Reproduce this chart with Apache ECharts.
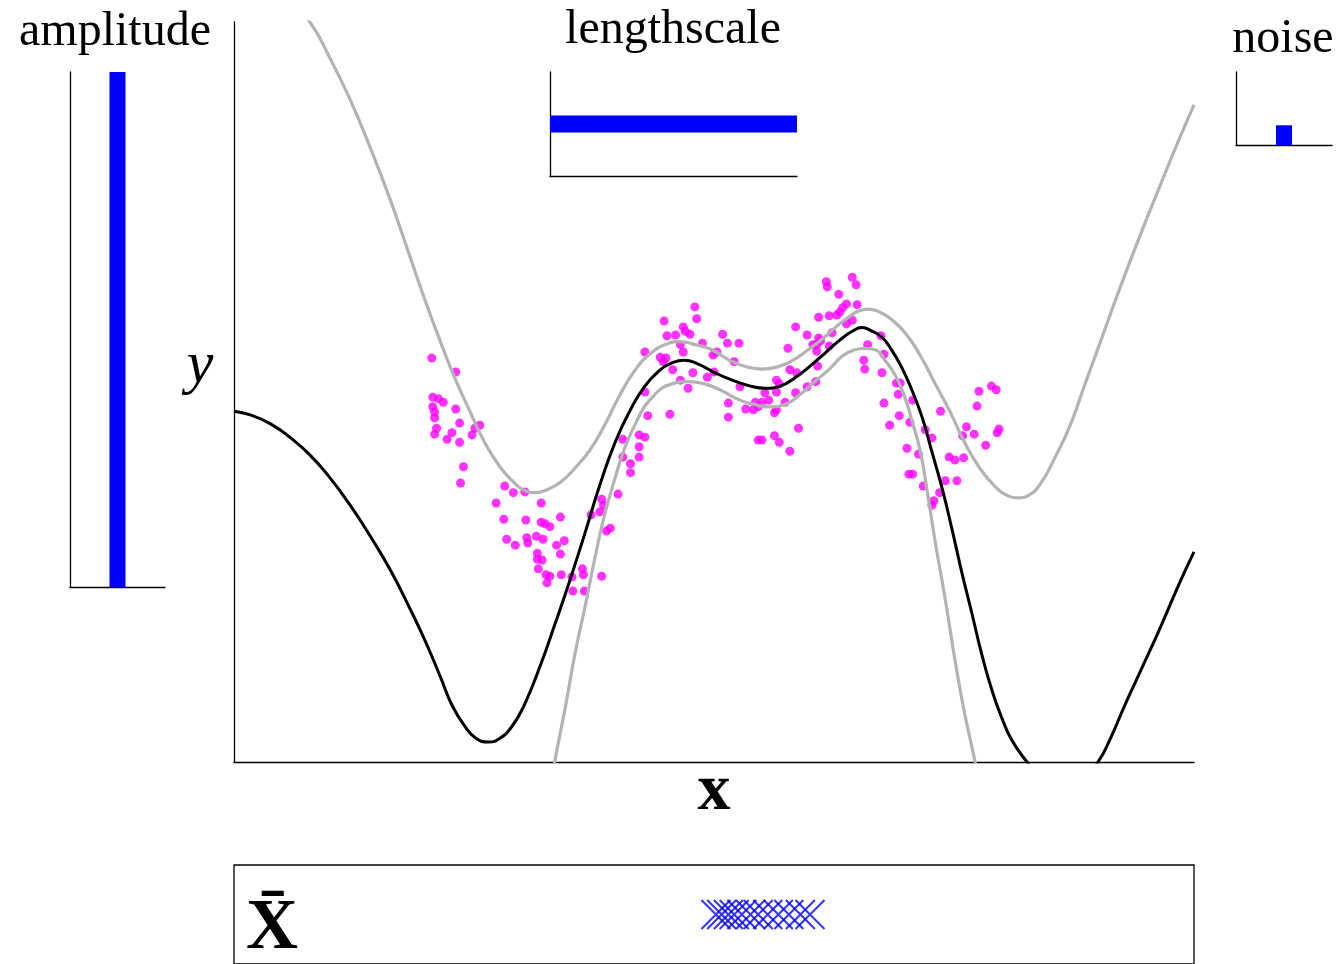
<!DOCTYPE html>
<html>
<head>
<meta charset="utf-8">
<script src="https://cdn.jsdelivr.net/npm/echarts@6/dist/echarts.min.js"></script>
<style>html,body{margin:0;padding:0;background:#fff;}#c{width:1341px;height:964px;}</style>
</head>
<body>
<div id="c"></div>
<script>
// ---- data ----
const meanCurve = [[0.00,4.74],[0.17,4.69],[0.38,4.57],[0.58,4.39],[0.79,4.15],[1.00,3.84],[1.21,3.47],[1.42,3.05],[1.63,2.59],[1.83,2.08],[1.99,1.64],[2.15,1.15],[2.27,0.77],[2.40,0.49],[2.52,0.32],[2.65,0.27],[2.77,0.32],[2.90,0.49],[3.02,0.76],[3.19,1.30],[3.34,1.85],[3.50,2.46],[3.66,3.11],[3.81,3.74],[3.97,4.32],[4.13,4.76],[4.28,5.08],[4.44,5.30],[4.54,5.38],[4.69,5.43],[4.83,5.38],[4.98,5.28],[5.15,5.18],[5.38,5.08],[5.53,5.05],[5.69,5.08],[5.84,5.19],[6.00,5.35],[6.16,5.53],[6.31,5.70],[6.44,5.82],[6.54,5.87],[6.65,5.82],[6.75,5.74],[6.85,5.57],[6.96,5.32],[7.06,5.03],[7.17,4.65],[7.27,4.19],[7.38,3.68],[7.48,3.14],[7.58,2.57],[7.69,1.99],[7.79,1.45],[7.90,0.95],[8.00,0.59],[8.10,0.30],[8.26,0.00],[8.45,-0.30],[8.63,-0.41],[8.81,-0.30],[9.00,0.00],[9.13,0.32],[9.28,0.77],[9.44,1.22],[9.65,1.82],[9.85,2.42],[10.00,2.84]];
const upperCurve = [[0.00,11.11],[0.27,10.70],[0.53,10.36],[0.79,10.00],[1.00,9.51],[1.21,8.95],[1.42,8.30],[1.63,7.59],[1.83,6.84],[1.99,6.24],[2.15,5.68],[2.30,5.19],[2.46,4.73],[2.61,4.32],[2.77,3.99],[2.90,3.80],[3.01,3.68],[3.14,3.64],[3.26,3.68],[3.40,3.78],[3.55,3.97],[3.71,4.22],[3.86,4.55],[4.02,4.96],[4.18,5.30],[4.33,5.51],[4.49,5.64],[4.65,5.68],[4.80,5.64],[4.96,5.58],[5.19,5.41],[5.34,5.34],[5.50,5.31],[5.66,5.34],[5.81,5.42],[5.97,5.56],[6.13,5.72],[6.27,5.88],[6.40,6.01],[6.50,6.09],[6.60,6.12],[6.71,6.09],[6.83,6.00],[6.99,5.80],[7.15,5.49],[7.30,5.12],[7.46,4.73],[7.61,4.32],[7.77,3.97],[7.93,3.72],[8.06,3.60],[8.17,3.57],[8.27,3.60],[8.40,3.76],[8.55,4.11],[8.71,4.55],[8.86,5.09],[9.02,5.66],[9.23,6.41],[9.44,7.12],[9.65,7.80],[9.85,8.43],[10.00,8.88]];
const lowerCurve = [[3.24,-0.78],[3.34,0.00],[3.45,0.73],[3.55,1.45],[3.66,2.12],[3.76,2.76],[3.86,3.34],[3.97,3.84],[4.07,4.24],[4.20,4.62],[4.33,4.89],[4.56,5.11],[4.73,5.14],[4.90,5.11],[5.06,5.03],[5.27,4.89],[5.43,4.83],[5.58,4.80],[5.74,4.83],[5.90,4.97],[6.05,5.14],[6.21,5.32],[6.34,5.49],[6.47,5.57],[6.57,5.59],[6.68,5.57],[6.78,5.43],[6.89,5.22],[6.99,4.92],[7.06,4.62],[7.15,4.19],[7.23,3.58],[7.31,2.93],[7.41,2.19],[7.51,1.38],[7.61,0.66],[7.72,0.00],[7.82,-0.68]];
const observations = [[2.06,5.46],[2.31,5.27],[2.07,4.93],[2.13,4.91],[2.18,4.86],[2.07,4.80],[2.09,4.73],[2.09,4.65],[2.31,4.77],[2.35,4.58],[2.56,4.55],[2.51,4.51],[2.11,4.51],[2.09,4.43],[2.27,4.45],[2.22,4.36],[2.35,4.32],[2.48,4.42],[2.39,3.99],[2.36,3.77],[2.82,3.73],[2.91,3.64],[3.03,3.65],[2.73,3.50],[3.20,3.50],[2.81,3.28],[3.04,3.27],[3.20,3.24],[3.24,3.22],[3.29,3.18],[3.40,3.31],[3.83,3.55],[3.72,3.34],[3.81,3.38],[3.85,3.47],[3.92,3.16],[3.88,3.12],[4.00,3.62],[2.84,3.01],[2.93,2.93],[3.05,3.03],[3.06,2.96],[3.15,3.05],[3.22,3.01],[3.44,2.99],[3.36,2.93],[3.40,2.81],[3.16,2.82],[3.16,2.74],[3.21,2.73],[3.17,2.61],[3.25,2.53],[3.29,2.51],[3.26,2.42],[3.41,2.53],[3.52,2.50],[3.63,2.61],[3.64,2.53],[3.83,2.51],[3.53,2.31],[3.65,2.31],[4.80,6.15],[4.48,5.96],[4.82,5.99],[4.68,5.88],[4.70,5.82],[4.75,5.78],[4.51,5.76],[4.60,5.77],[5.09,5.78],[5.14,5.66],[4.88,5.66],[4.65,5.64],[4.68,5.54],[4.28,5.54],[4.44,5.47],[4.50,5.46],[4.47,5.41],[5.03,5.54],[4.99,5.50],[4.57,5.30],[4.78,5.26],[5.00,5.27],[4.93,5.20],[4.65,5.16],[4.73,5.05],[4.28,5.00],[5.15,4.85],[4.31,4.68],[4.54,4.70],[5.15,4.66],[4.05,4.36],[4.22,4.42],[4.28,4.39],[4.22,4.26],[4.05,4.12],[4.22,4.12],[4.13,4.03],[4.13,3.91],[6.17,6.49],[6.18,6.42],[6.44,6.55],[6.48,6.45],[6.30,6.32],[6.38,6.19],[6.34,6.14],[6.49,6.18],[6.31,6.08],[6.28,6.04],[6.20,6.03],[6.09,6.01],[6.44,5.97],[6.38,5.92],[5.85,5.88],[6.23,5.80],[5.97,5.77],[6.09,5.73],[6.11,5.69],[6.07,5.64],[6.03,5.64],[6.07,5.55],[6.20,5.62],[5.77,5.59],[5.26,5.66],[6.60,5.64],[5.21,5.41],[6.08,5.35],[5.79,5.30],[6.56,5.43],[6.57,5.31],[5.86,5.26],[6.06,5.14],[5.97,5.07],[5.65,5.16],[5.68,5.11],[5.65,5.00],[5.53,4.99],[5.27,5.07],[5.85,4.99],[5.43,4.86],[5.50,4.86],[5.57,4.89],[5.46,4.80],[5.41,4.76],[5.74,4.86],[5.33,4.77],[5.65,4.76],[5.63,4.72],[5.88,4.51],[5.46,4.35],[5.50,4.35],[5.63,4.41],[5.68,4.32],[5.79,4.20],[6.74,5.76],[6.77,5.51],[6.75,5.26],[6.90,5.12],[6.94,5.12],[6.92,4.97],[7.07,4.89],[6.77,4.85],[6.93,4.68],[7.04,4.59],[6.83,4.55],[7.36,4.74],[7.20,4.49],[7.27,4.38],[7.01,4.24],[7.13,4.16],[7.76,5.01],[7.89,5.08],[7.94,5.03],[7.74,4.81],[7.63,4.53],[7.59,4.41],[7.71,4.43],[7.97,4.50],[7.95,4.45],[7.83,4.28],[7.45,4.12],[7.51,4.08],[7.60,4.11],[7.03,3.89],[7.07,3.89],[7.18,3.73],[7.41,3.80],[7.53,3.80],[7.35,3.64],[7.29,3.53],[7.27,3.47]];
const inducingX = [5.02,5.08,5.15,5.21,5.29,5.38,5.46,5.56,5.67,5.78,5.90,6.00];
const amplitude = [1.0];
const lengthscale = [1.0];
const noise = [0.27];

// ---- chart ----
const chart = echarts.init(document.getElementById('c'), null, {renderer: 'canvas'});
const axLine = {show: true, onZero: false, lineStyle: {color: '#000', width: 1.3}};
const hidden = {axisTick: {show: false}, axisLabel: {show: false}, splitLine: {show: false}};
const serif = '"Liberation Serif", "DejaVu Serif", serif';

chart.setOption({
  animation: false,
  backgroundColor: '#fff',
  grid: [
    {left: 234, top: 22, width: 960, height: 740},
    {left: 70, top: 72, width: 95, height: 515},
    {left: 550, top: 72, width: 247, height: 104},
    {left: 1236, top: 72, width: 96, height: 73},
    {left: 234, top: 865, width: 960, height: 104, show: true, borderColor: '#000', borderWidth: 1.3, backgroundColor: 'transparent'}
  ],
  xAxis: [
    Object.assign({type: 'value', gridIndex: 0, min: 0, max: 10, axisLine: axLine}, hidden),
    Object.assign({type: 'category', gridIndex: 1, data: ['amplitude'], axisLine: axLine}, hidden),
    Object.assign({type: 'value', gridIndex: 2, min: 0, max: 1, axisLine: axLine}, hidden),
    Object.assign({type: 'category', gridIndex: 3, data: ['noise'], axisLine: axLine}, hidden),
    Object.assign({type: 'value', gridIndex: 4, min: 0, max: 10, axisLine: {show: false}}, hidden)
  ],
  yAxis: [
    Object.assign({type: 'value', gridIndex: 0, min: 0, max: 10, axisLine: axLine}, hidden),
    Object.assign({type: 'value', gridIndex: 1, min: 0, max: 1, axisLine: axLine}, hidden),
    Object.assign({type: 'category', gridIndex: 2, data: ['lengthscale'], axisLine: axLine}, hidden),
    Object.assign({type: 'value', gridIndex: 3, min: 0, max: 1, axisLine: axLine}, hidden),
    Object.assign({type: 'value', gridIndex: 4, min: -1, max: 1, axisLine: {show: false}}, hidden)
  ],
  series: [
    {type: 'line', xAxisIndex: 0, yAxisIndex: 0, data: upperCurve, smooth: 0.5, showSymbol: false, clip: true,
     lineStyle: {color: '#b3b3b3', width: 3.2}, silent: true},
    {type: 'line', xAxisIndex: 0, yAxisIndex: 0, data: lowerCurve, smooth: 0.5, showSymbol: false, clip: true,
     lineStyle: {color: '#b3b3b3', width: 3.2}, silent: true},
    {type: 'line', xAxisIndex: 0, yAxisIndex: 0, data: meanCurve, smooth: 0.5, showSymbol: false, clip: true,
     lineStyle: {color: '#000', width: 3}, silent: true},
    {type: 'scatter', xAxisIndex: 0, yAxisIndex: 0, data: observations, symbolSize: 9,
     itemStyle: {color: '#ff00ff'}, silent: true},
    {type: 'bar', xAxisIndex: 1, yAxisIndex: 1, data: amplitude, barWidth: 16, itemStyle: {color: '#0000ff'}, silent: true},
    {type: 'bar', xAxisIndex: 2, yAxisIndex: 2, data: lengthscale, barWidth: 17, itemStyle: {color: '#0000ff'}, silent: true},
    {type: 'bar', xAxisIndex: 3, yAxisIndex: 3, data: noise, barWidth: 16, itemStyle: {color: '#0000ff'}, silent: true},
    {type: 'scatter', xAxisIndex: 4, yAxisIndex: 4, data: inducingX.map(v => [v, 0]),
     symbol: 'path://M0,0L10,10M10,0L0,10', symbolSize: 29,
     itemStyle: {color: 'none', borderColor: '#0000ff', borderWidth: 2}, silent: true}
  ],
  graphic: [
    {type: 'text', x: 115, y: 32, style: {text: 'amplitude', font: '48px ' + serif, fill: '#000', align: 'center', verticalAlign: 'middle'}},
    {type: 'text', x: 673, y: 30, style: {text: 'lengthscale', font: '48px ' + serif, fill: '#000', align: 'center', verticalAlign: 'middle'}},
    {type: 'text', x: 1283, y: 39, style: {text: 'noise', font: '48px ' + serif, fill: '#000', align: 'center', verticalAlign: 'middle'}},
    {type: 'text', x: 200, y: 366, style: {text: 'y', font: 'italic 60px ' + serif, fill: '#000', align: 'center', verticalAlign: 'middle'}},
    {type: 'text', x: 714, y: 792, style: {text: 'x', font: 'bold 66px ' + serif, fill: '#000', align: 'center', verticalAlign: 'middle'}},
    {type: 'text', x: 272, y: 929, style: {text: 'X\u0304', font: 'bold 72px ' + serif, fill: '#000', align: 'center', verticalAlign: 'middle'}}
  ]
});
</script>
</body>
</html>
